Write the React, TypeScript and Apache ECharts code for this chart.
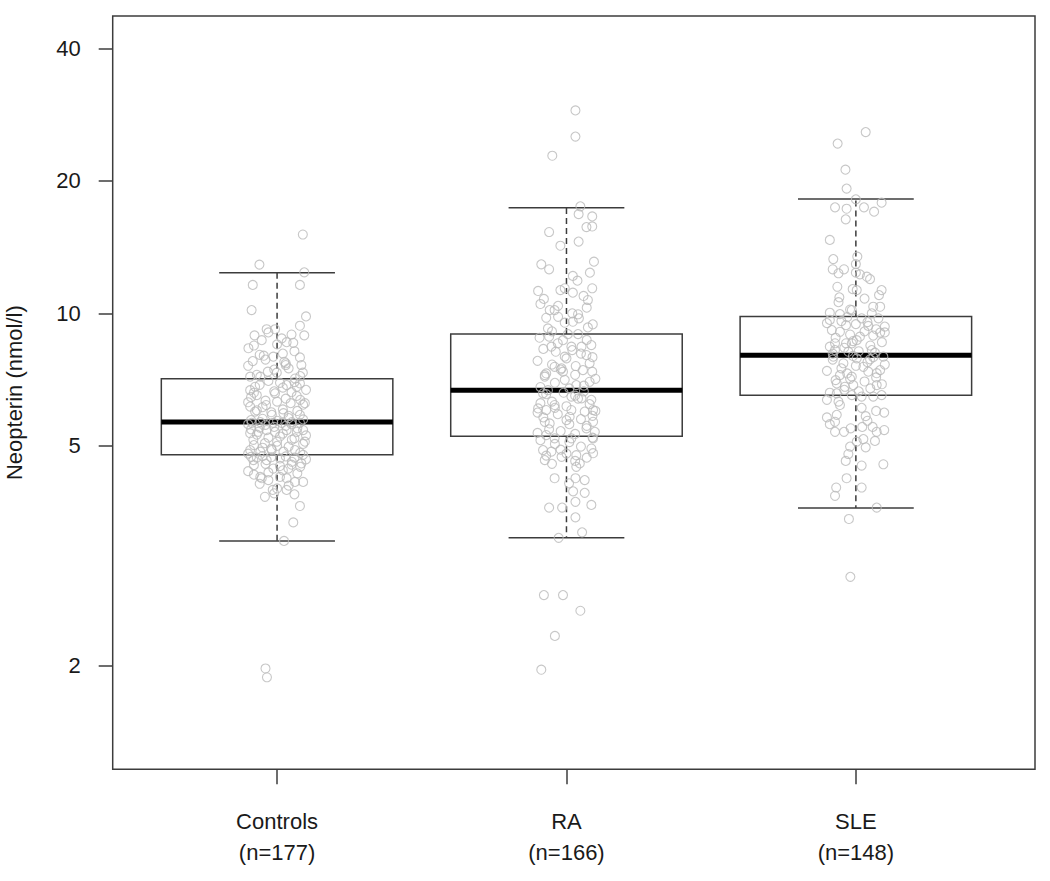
import React, { useEffect, useRef } from 'react';
import * as echarts from 'echarts';

const groups = ['Controls', 'RA', 'SLE'];
const groupN = [177, 166, 148];
const whiskerLow = [3.04, 3.09, 3.61];
const q1 = [4.77, 5.26, 6.51];
const median = [5.66, 6.69, 8.03];
const q3 = [7.1, 8.97, 9.84];
const whiskerHigh = [12.37, 17.38, 18.18];
const yTickValues = [40, 20, 10, 5, 1.582];
const yTickLabels = ['40', '20', '10', '5', '2'];

// [jitter, neopterin nmol/l]
const controlsPoints = [
  [0.089, 15.1], [-0.061, 12.9], [0.094, 12.39], [-0.084, 11.6], [0.079, 11.6], [-0.088, 10.17], [0.1, 9.84], [0.079, 9.37],
  [0.094, 8.91], [-0.078, 8.91], [-0.036, 9.2], [-0.007, 9.2], [-0.099, 8.33], [-0.053, 8.69], [0.016, 8.77], [0.056, 8.57],
  [0.033, 8.6], [-0.084, 7.79], [-0.046, 8.01], [-0.013, 7.97], [0.079, 7.94], [0.084, 7.63], [0.025, 7.76], [0.03, 7.63],
  [-0.032, 7.37], [0.089, 7.33], [-0.093, 7.18], [-0.058, 7.18], [-0.001, 7.33], [0.062, 7.11], [0.079, 6.93], [-0.093, 6.69],
  [-0.076, 6.81], [0.033, 6.87], [0.068, 6.81], [-0.07, 6.52], [-0.007, 6.58], [0.068, 6.49], [0, 6.3], [-0.093, 6.14],
  [-0.038, 6.19], [0.047, 6.25], [0.096, 6.25], [-0.076, 5.98], [-0.018, 5.88], [0.022, 5.93], [0.079, 5.88], [-0.088, 5.64],
  [-0.058, 5.66], [-0.013, 5.64], [0.016, 5.64], [0.051, 5.66], [0.079, 5.64], [-0.093, 5.34], [-0.065, 5.38], [-0.036, 5.43],
  [-0.007, 5.38], [0.033, 5.43], [0.068, 5.38], [0.09, 5.43], [0.096, 5.11], [-0.082, 5.16], [-0.042, 5.07], [0, 5.11],
  [0.051, 5.16], [-0.093, 4.89], [-0.058, 4.85], [-0.018, 4.89], [0.022, 4.85], [0.062, 4.89], [0.09, 4.77], [-0.082, 4.64],
  [-0.036, 4.64], [0.01, 4.68], [0.051, 4.6], [0.084, 4.56], [-0.013, 4.44], [0.039, 4.44], [-0.058, 4.25], [-0.053, 4.22],
  [-0.03, 4.18], [0.01, 4.25], [0.033, 4.22], [0.062, 4.14], [0.09, 4.14], [0, 4.0], [-0.015, 3.97], [0.033, 3.97],
  [-0.042, 3.83], [0.079, 3.65], [0.056, 3.35], [0.024, 3.04], [-0.04, 1.56], [-0.035, 1.49],
  [-0.09, 4.72], [-0.07, 4.7], [-0.05, 4.74], [-0.02, 4.71], [0.03, 4.73], [0.06, 4.7], [0.1, 4.66], [-0.08, 4.52],
  [-0.04, 4.55], [0.01, 4.5], [0.05, 4.53], [0.08, 4.48], [-0.1, 4.38], [-0.03, 4.35], [0.02, 4.4], [0.07, 4.33],
  [-0.06, 4.1], [0.04, 4.06], [-0.01, 3.9], [0.06, 3.88], [-0.08, 4.3],
  [-0.1, 4.8], [-0.05, 4.95], [0.0, 5.0], [0.04, 4.98], [0.08, 4.82], [-0.08, 5.02], [-0.03, 5.22], [0.01, 5.25],
  [0.06, 5.2], [0.1, 5.28], [-0.09, 5.45], [-0.06, 5.5], [-0.01, 5.52], [0.03, 5.55], [0.07, 5.48], [-0.04, 5.58],
  [0.05, 5.6], [-0.07, 5.3], [0.09, 5.05], [-0.02, 4.92], [0.02, 5.33], [-0.1, 5.6],
  [-0.09, 5.72], [-0.05, 5.76], [0.0, 5.7], [0.04, 5.78], [0.09, 5.74], [-0.07, 6.02], [-0.02, 5.96], [0.02, 6.05],
  [0.07, 6.0], [-0.1, 6.28], [-0.04, 6.33], [0.03, 6.4], [0.08, 6.36], [-0.08, 6.6], [-0.01, 6.65], [0.05, 6.62],
  [0.1, 6.7], [-0.06, 6.88], [0.01, 6.95], [0.06, 6.98], [-0.03, 7.02], [0.09, 6.2], [-0.09, 6.45], [0.04, 5.85],
  [-0.05, 6.12], [0.02, 6.78],
  [-0.07, 7.25], [-0.01, 7.45], [0.04, 7.5], [0.08, 7.2], [-0.1, 7.6], [-0.04, 7.85], [0.02, 8.1], [0.06, 8.2],
  [-0.08, 8.45], [0.0, 8.5], [0.05, 8.95], [-0.03, 9.05], [0.03, 7.7], [-0.06, 8.05],
];

const raPoints = [
  [0.031, 28.9], [0.031, 25.2], [-0.049, 22.8], [0.048, 17.5], [0.042, 16.8], [0.089, 16.6], [0.069, 15.7], [0.089, 15.75],
  [-0.06, 15.3], [0.042, 14.55], [-0.021, 14.24], [0.095, 13.1], [-0.087, 12.92], [-0.06, 12.59], [0.081, 12.37], [0.022, 12.16],
  [0.038, 11.86], [-0.098, 11.24], [-0.021, 11.29], [-0.006, 11.4], [0.089, 11.4], [0.022, 11.14], [-0.078, 10.78], [0.059, 10.95],
  [0.074, 10.72], [-0.058, 10.17], [-0.029, 10.4], [-0.041, 10.17], [-0.07, 9.77], [-0.029, 9.82], [0.043, 9.74], [-0.006, 9.52],
  [0.022, 9.57], [0.091, 9.44], [0.074, 9.29], [-0.064, 9.24], [-0.093, 8.8], [0.005, 8.97], [0.04, 8.97], [-0.012, 8.69],
  [-0.052, 8.4], [-0.037, 8.18], [0.017, 8.4], [0.052, 8.4], [0.086, 8.47], [0.069, 8.04], [-0.006, 7.97], [-0.075, 7.24],
  [-0.041, 7.56], [-0.017, 7.5], [0.032, 7.59], [0.057, 7.43], [0.089, 7.37], [-0.012, 7.37], [-0.075, 7.18], [-0.006, 7.06],
  [0.034, 6.87], [0.08, 6.99], [-0.081, 6.58], [-0.064, 6.69], [0.017, 6.47], [0.052, 6.41], [0.086, 6.36], [-0.098, 6.08],
  [-0.07, 6.03], [-0.041, 6.19], [0.017, 6.03], [0.063, 5.98], [0.092, 6.03], [-0.075, 5.67], [-0.058, 5.62], [0, 5.72],
  [0.011, 5.82], [0.092, 5.67], [0.069, 5.48], [0.098, 5.38], [-0.07, 5.29], [-0.041, 5.2], [0.017, 5.2], [0.092, 5.2],
  [-0.081, 4.89], [-0.052, 4.85], [-0.017, 4.72], [0.034, 4.76], [0.086, 4.93], [0.092, 4.81], [-0.075, 4.64], [0.046, 4.56],
  [0.034, 4.48], [-0.041, 4.22], [0.031, 4.22], [0.063, 4.18], [0.009, 4.11], [0.023, 3.94], [0.063, 3.91], [0.031, 3.73],
  [0.086, 3.67], [-0.06, 3.62], [-0.015, 3.62], [0.031, 3.44], [0.054, 3.18], [-0.027, 3.09], [-0.078, 2.29], [-0.012, 2.29],
  [0.048, 2.11], [-0.04, 1.85], [-0.087, 1.55],
  [-0.05, 9.1], [0.02, 10.0], [0.07, 10.3], [-0.09, 10.5], [0.04, 9.95],
  [-0.09, 6.8], [-0.04, 6.95], [0.01, 6.75], [0.06, 6.85], [0.1, 7.1], [-0.07, 7.3], [-0.02, 7.45], [0.03, 7.25],
  [0.08, 7.7], [-0.1, 7.8], [-0.05, 7.65], [0.0, 7.9], [0.05, 8.1], [-0.08, 8.3], [-0.03, 8.55], [0.02, 8.25],
  [0.07, 8.7], [-0.06, 8.85], [0.09, 7.95],
  [-0.1, 5.35], [-0.06, 5.45], [-0.02, 5.4], [0.03, 5.32], [0.07, 5.55], [-0.08, 5.8], [-0.03, 5.9], [0.01, 5.6],
  [0.05, 5.75], [0.09, 5.85], [-0.09, 6.25], [-0.05, 6.3], [0.0, 6.15], [0.04, 6.4], [0.08, 6.22], [-0.07, 6.55],
  [-0.01, 6.6], [0.03, 6.5], [0.06, 6.65], [-0.04, 6.1], [0.1, 6.0], [-0.1, 5.95],
  [-0.09, 5.15], [-0.04, 5.05], [0.01, 5.1], [0.05, 4.98], [0.09, 5.22], [-0.07, 4.75], [-0.02, 4.9], [0.03, 4.62],
  [0.07, 4.7], [-0.05, 4.55], [0.0, 4.8],
];

const slePoints = [
  [0.034, 25.8], [-0.063, 24.3], [-0.036, 21.2], [-0.032, 19.2], [0, 18.15], [0.089, 17.84], [-0.072, 17.41], [-0.032, 17.28],
  [0.028, 17.41], [0.063, 17.02], [-0.035, 16.35], [-0.09, 14.68], [-0.078, 13.28], [0.005, 13.45], [0, 12.94], [-0.08, 12.59],
  [-0.041, 12.59], [-0.06, 12.33], [0, 12.37], [0.014, 12.26], [0.049, 11.96], [0.038, 12.11], [-0.064, 11.49], [0.089, 11.29],
  [-0.011, 11.35], [0.003, 11.29], [-0.057, 10.87], [-0.014, 10.17], [-0.09, 10.03], [-0.055, 9.96], [0.06, 10.35], [0.084, 10.35],
  [0.055, 10.0], [0.02, 9.74], [0.078, 9.74], [-0.09, 9.66], [-0.034, 9.4], [0.043, 9.36], [0.1, 9.33], [-0.083, 9.16],
  [-0.055, 9.08], [0.014, 8.85], [0.084, 9.04], [0.003, 8.69], [-0.014, 8.55], [-0.034, 8.55], [-0.072, 8.55], [-0.072, 8.25],
  [0.055, 8.25], [0.066, 8.14], [-0.026, 8.18], [-0.078, 7.97], [0.095, 7.97], [-0.043, 7.7], [0.003, 7.9], [0.049, 7.86],
  [0.084, 7.43], [0.026, 7.56], [0.043, 7.37], [0.072, 7.31], [-0.055, 7.24], [-0.014, 7.18], [-0.066, 6.93], [-0.038, 6.81],
  [-0.009, 6.87], [0.072, 6.87], [-0.066, 6.58], [-0.014, 6.52], [0.02, 6.47], [0.06, 6.47], [0.089, 6.52], [-0.1, 6.36],
  [-0.055, 6.19], [-0.1, 5.8], [-0.066, 5.88], [-0.072, 5.67], [0.034, 5.84], [0.098, 5.95], [-0.072, 5.38], [-0.041, 5.38],
  [-0.018, 5.48], [0.022, 5.52], [0.058, 5.52], [0.072, 5.38], [0.098, 5.43], [0.003, 5.11], [0.026, 5.18], [0.066, 5.13],
  [-0.02, 4.98], [0.034, 4.96], [-0.026, 4.79], [-0.035, 4.62], [0.02, 4.51], [0.095, 4.54], [-0.032, 4.22], [-0.068, 4.02],
  [0.02, 4.02], [-0.072, 3.85], [0.072, 3.62], [-0.024, 3.41], [-0.019, 2.52],
  [-0.06, 10.6], [0.03, 10.8], [0.08, 11.0], [-0.02, 10.2],
  [-0.09, 8.4], [-0.04, 8.35], [0.01, 8.2], [0.05, 8.45], [0.09, 8.6], [-0.07, 8.8], [-0.02, 8.95], [0.03, 9.1],
  [0.07, 9.2], [-0.1, 9.5], [-0.05, 9.6], [0.0, 9.45], [0.04, 9.55], [0.1, 9.05], [-0.08, 8.1], [-0.01, 8.65],
  [0.06, 8.9], [-0.03, 9.8],
  [-0.09, 6.6], [-0.04, 6.7], [0.01, 6.65], [0.05, 6.75], [0.09, 6.9], [-0.07, 7.05], [-0.02, 7.1], [0.03, 7.0],
  [0.07, 7.15], [-0.1, 7.4], [-0.05, 7.5], [0.0, 7.6], [0.04, 7.75], [0.1, 7.65], [-0.08, 7.85], [-0.01, 8.0],
  [0.06, 7.95], [-0.03, 7.3],
  [-0.06, 6.3], [0.02, 6.1], [0.07, 6.0], [-0.09, 5.6], [0.04, 5.7],
];

const FONT = '"Liberation Sans", Arial, Helvetica, sans-serif';
const INK = '#1a1a1a';
const LINE = '#3c3c3c';

export default function App() {
  const ref = useRef<HTMLDivElement>(null);
  useEffect(() => {
    if (!ref.current) return;
    const chart = echarts.init(ref.current, null, { renderer: 'svg' });
    const lg = (v: number) => Math.log10(v);
    const boxData = groups.map((_, i) => [
      i + 1, lg(whiskerLow[i]), lg(q1[i]), lg(median[i]), lg(q3[i]), lg(whiskerHigh[i]),
    ]);
    const pointSets = [controlsPoints, raPoints, slePoints];
    const scatterData = pointSets.flatMap((pts, i) => pts.map(([j, v]) => [i + 1 + j, lg(v)]));
    const yTicks = yTickValues.map(lg);
    const yLabel = (v: number) => {
      const k = yTicks.findIndex((t) => Math.abs(t - v) < 1e-6);
      return k >= 0 ? yTickLabels[k] : '';
    };
    const xLabel = (v: number) => {
      const k = Math.round(v) - 1;
      return groups[k] ? `${groups[k]}\n(n=${groupN[k]})` : '';
    };

    const option: any = {
      animation: false,
      backgroundColor: '#ffffff',
      grid: {
        left: 112.7, top: 16, right: 15, bottom: 111.7,
        containLabel: false, outerBoundsMode: 'none',
        show: true, borderColor: LINE, borderWidth: 1.5, backgroundColor: 'transparent',
      },
      xAxis: {
        type: 'value', min: 0.432, max: 3.619,
        axisLine: { show: false, onZero: false },
        splitLine: { show: false },
        axisTick: { show: true, inside: false, customValues: [1, 2, 3], length: 15, lineStyle: { color: LINE, width: 1.5 } },
        axisLabel: {
          customValues: [1, 2, 3], formatter: xLabel, margin: 37,
          fontSize: 22, lineHeight: 31, color: INK, fontFamily: FONT,
        },
      },
      yAxis: {
        type: 'value', min: -0.0359, max: 1.6754,
        name: 'Neopterin (nmol/l)', nameLocation: 'middle', nameGap: 87,
        nameTextStyle: { fontSize: 22, color: INK, fontFamily: FONT },
        axisLine: { show: false, onZero: false },
        splitLine: { show: false },
        axisTick: { show: true, inside: false, customValues: yTicks, length: 14, lineStyle: { color: LINE, width: 1.5 } },
        axisLabel: {
          customValues: yTicks, formatter: yLabel, margin: 32,
          fontSize: 22, color: INK, fontFamily: FONT,
        },
      },
      series: [
        {
          type: 'custom',
          z: 2,
          data: boxData,
          encode: { x: 0, y: [1, 2, 3, 4, 5] },
          renderItem: (_params: any, api: any) => {
            const x = api.value(0);
            const pLo = api.coord([x, api.value(1)]);
            const pQ1 = api.coord([x, api.value(2)]);
            const pMed = api.coord([x, api.value(3)]);
            const pQ3 = api.coord([x, api.value(4)]);
            const pHi = api.coord([x, api.value(5)]);
            const bw = api.size([0.8, 0])[0];
            const cx = pMed[0];
            const half = bw / 2;
            const cap = bw / 4;
            const solid = { stroke: LINE, lineWidth: 1.5, fill: 'none' };
            const dashed = { stroke: LINE, lineWidth: 1.5, lineDash: [6, 4] };
            return {
              type: 'group',
              children: [
                { type: 'line', shape: { x1: cx, y1: pQ3[1], x2: cx, y2: pHi[1] }, style: dashed },
                { type: 'line', shape: { x1: cx, y1: pQ1[1], x2: cx, y2: pLo[1] }, style: dashed },
                { type: 'line', shape: { x1: cx - cap, y1: pHi[1], x2: cx + cap, y2: pHi[1] }, style: solid },
                { type: 'line', shape: { x1: cx - cap, y1: pLo[1], x2: cx + cap, y2: pLo[1] }, style: solid },
                {
                  type: 'rect',
                  shape: { x: cx - half, y: pQ3[1], width: bw, height: pQ1[1] - pQ3[1] },
                  style: { stroke: LINE, lineWidth: 1.5, fill: '#ffffff' },
                },
                {
                  type: 'line',
                  shape: { x1: cx - half, y1: pMed[1], x2: cx + half, y2: pMed[1] },
                  style: { stroke: '#000000', lineWidth: 5 },
                },
              ],
            };
          },
        },
        {
          type: 'scatter',
          z: 3,
          data: scatterData,
          symbol: 'circle',
          symbolSize: 9,
          itemStyle: { color: 'rgba(0,0,0,0)', borderColor: '#b9b9b9', borderWidth: 1.1 },
          emphasis: { disabled: true },
        },
      ],
    };
    chart.setOption(option);
    return () => chart.dispose();
  }, []);
  return (
    <div
      ref={ref}
      style={{ position: 'absolute', left: 0, top: 0, width: 1050, height: 881, background: '#ffffff' }}
    />
  );
}
